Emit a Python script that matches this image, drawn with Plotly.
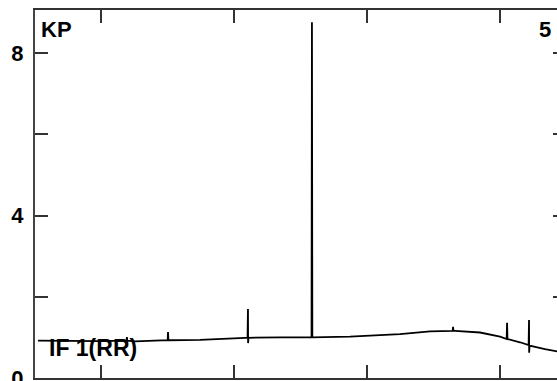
import plotly.graph_objects as go

# Trace samples (x in arbitrary units, y value)
x_vals = [52.6, 75.0, 99.2, 119.2, 119.5, 119.8, 125.6, 150.1, 150.4, 150.7, 174.4,
          208.3, 210.2, 210.5, 210.6, 210.9, 235.0, 258.3, 258.6, 258.9, 287.2,
          324.8, 347.4, 364.4, 364.7, 365.0, 366.2, 385.0, 400.0,
          405.0, 405.3, 405.6, 415.0, 421.5, 421.8, 421.9, 422.2, 433.8, 445.0, 450.0]
y_vals = [0.92, 0.91, 0.91, 0.92, 1.01, 0.92, 0.90, 0.93, 1.13, 0.93, 0.94,
          0.99, 0.99, 1.70, 0.86, 0.99, 1.00, 1.00, 8.76, 1.00, 1.02,
          1.08, 1.15, 1.16, 1.26, 1.16, 1.16, 1.12, 1.02,
          0.96, 1.36, 0.96, 0.88, 0.81, 1.43, 0.62, 0.80, 0.71, 0.63, 0.61]

y_tickvals = [0, 2, 4, 6, 8]
y_ticktext = ["0", "", "4", "", "8"]
x_tickvals = [100, 200, 300, 400]

FONT = "Liberation Sans, Arial, sans-serif"

fig = go.Figure()
fig.add_trace(go.Scatter(x=x_vals, y=y_vals, mode="lines",
                         line=dict(color="black", width=1.8),
                         hoverinfo="skip", showlegend=False))

fig.update_layout(
    width=567, height=381,
    margin=dict(l=35, r=1, t=10, b=3, autoexpand=False),
    paper_bgcolor="white", plot_bgcolor="white",
    font=dict(family=FONT, color="black"),
    xaxis=dict(range=[50.4, 449.6], tickvals=x_tickvals, showticklabels=False,
               ticks="inside", ticklen=13, tickwidth=1.5, tickcolor="#333",
               showline=True, linecolor="#333", linewidth=2, mirror="ticks",
               showgrid=False, zeroline=False),
    yaxis=dict(range=[0, 9.06], tickvals=y_tickvals, ticktext=y_ticktext,
               ticks="inside", ticklen=13, tickwidth=1.5, tickcolor="#333",
               showline=True, linecolor="#444", linewidth=2, mirror="ticks",
               tickfont=dict(family=FONT, size=22, color="black", weight="bold"),
               ticklabelstandoff=5, ticklabeloverflow="allow",
               showgrid=False, zeroline=False),
    annotations=[
        dict(text="<b>KP</b>", xref="paper", yref="paper", x=0.0075, y=0.987,
             xanchor="left", yanchor="top", showarrow=False,
             font=dict(family=FONT, size=22, color="black")),
        dict(text="<b>5</b>", xref="paper", yref="paper", x=0.9755, y=0.987,
             xanchor="right", yanchor="top", showarrow=False,
             font=dict(family=FONT, size=22, color="black")),
        dict(text="<b>IF 1(RR)</b>", xref="paper", yref="paper", x=0.0226, y=0.122,
             xanchor="left", yanchor="top", showarrow=False,
             font=dict(family=FONT, size=23, color="black")),
    ],
)

fig.write_html(
    "out.html",
    config={"displayModeBar": False},
    post_script=("document.body.style.margin='0';"
                 "document.body.style.overflow='hidden';"
                 "document.documentElement.style.overflow='hidden';"),
)
